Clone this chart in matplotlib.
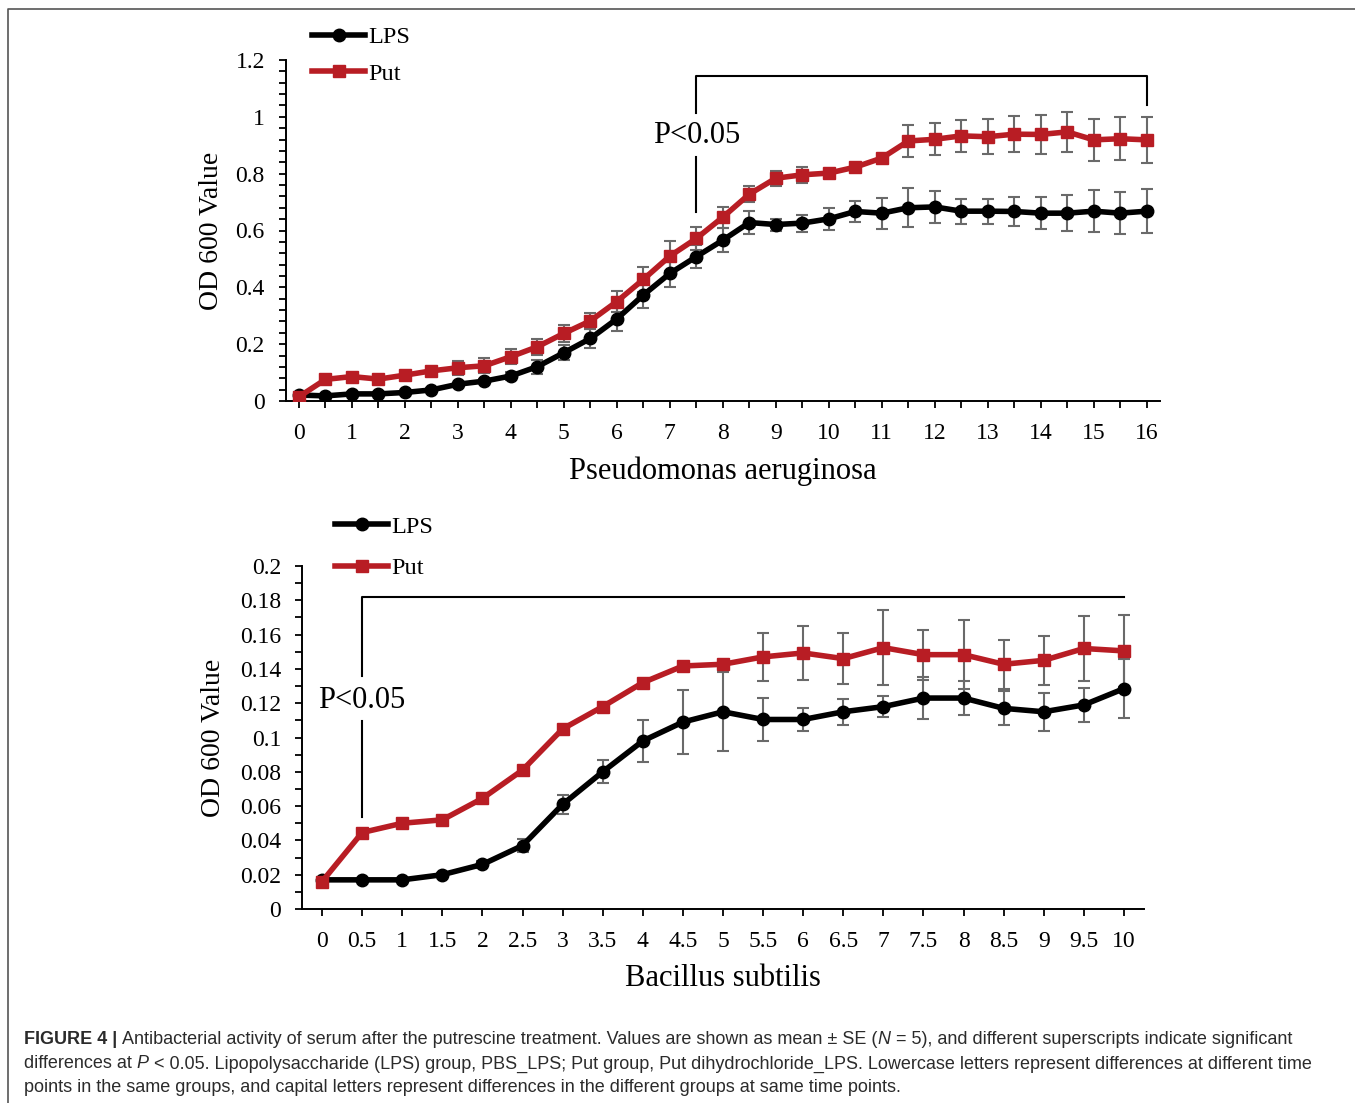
import matplotlib.pyplot as plt
from matplotlib.lines import Line2D
from matplotlib.ticker import MultipleLocator
import numpy as np

W, H = 1355, 1103
plt.rcParams['font.family'] = 'Liberation Serif'

# --- Pseudomonas aeruginosa (0-16 h, every 0.5 h) ---
pa_time = np.arange(0, 16.01, 0.5)
pa_lps = [0.021, 0.018, 0.025, 0.025, 0.030, 0.039, 0.059, 0.070, 0.088, 0.121, 0.170,
          0.220, 0.289, 0.373, 0.449, 0.508, 0.566, 0.628, 0.621, 0.626, 0.641, 0.667,
          0.661, 0.680, 0.683, 0.668, 0.668, 0.667, 0.661, 0.661, 0.668, 0.661, 0.668]
pa_lps_se = [0, 0.004, 0.005, 0.005, 0.005, 0.005, 0.006, 0.006, 0.013, 0.025, 0.027,
             0.035, 0.044, 0.047, 0.047, 0.041, 0.042, 0.039, 0.021, 0.030, 0.039, 0.038,
             0.054, 0.069, 0.057, 0.044, 0.044, 0.051, 0.056, 0.063, 0.075, 0.074, 0.077]
pa_put = [0.015, 0.076, 0.086, 0.077, 0.091, 0.106, 0.117, 0.124, 0.156, 0.191, 0.238,
          0.282, 0.350, 0.428, 0.510, 0.572, 0.647, 0.728, 0.784, 0.796, 0.802, 0.823,
          0.855, 0.915, 0.921, 0.933, 0.930, 0.939, 0.938, 0.947, 0.919, 0.923, 0.919]
pa_put_se = [0, 0.010, 0.012, 0.010, 0.012, 0.012, 0.025, 0.026, 0.026, 0.028, 0.030,
             0.028, 0.038, 0.044, 0.053, 0.042, 0.037, 0.029, 0.027, 0.029, 0.012, 0.010,
             0.010, 0.057, 0.057, 0.057, 0.061, 0.064, 0.068, 0.071, 0.074, 0.076, 0.081]

# --- Bacillus subtilis (0-10 h, every 0.5 h) ---
bs_time = np.arange(0, 10.01, 0.5)
bs_lps = [0.017, 0.017, 0.017, 0.020, 0.026, 0.037, 0.061, 0.080, 0.098, 0.109, 0.115,
          0.1105, 0.1105, 0.115, 0.118, 0.123, 0.123, 0.117, 0.115, 0.119, 0.1285]
bs_lps_se = [0, 0, 0, 0.001, 0.002, 0.004, 0.0057, 0.0066, 0.012, 0.0187, 0.023,
             0.0127, 0.0066, 0.0076, 0.006, 0.0125, 0.010, 0.010, 0.011, 0.010, 0.017]
bs_put = [0.016, 0.0446, 0.050, 0.052, 0.0645, 0.081, 0.105, 0.118, 0.132, 0.1417, 0.1427,
          0.147, 0.1493, 0.146, 0.1524, 0.1483, 0.1483, 0.1427, 0.145, 0.1519, 0.1505]
bs_put_se = [0, 0, 0, 0.001, 0.001, 0.001, 0.001, 0.001, 0.001, 0.001, 0.001,
             0.0138, 0.0159, 0.0148, 0.022, 0.0146, 0.020, 0.0144, 0.0143, 0.0187, 0.021]

RED = '#B81D24'
ERR = '#6a6a6a'

fig = plt.figure(figsize=(W / 100, H / 100), dpi=100)
ax1 = fig.add_axes([285.7 / W, 1 - 401 / H, (1160 - 285.7) / W, (401 - 60) / H])
ax2 = fig.add_axes([302 / W, 1 - 909 / H, (1144 - 302) / W, (909 - 566) / H])


def panel(ax, t, lps, lps_se, put, put_se, ymax, ymajor, yminor, xlab, every_label):
    ax.errorbar(t, lps, yerr=lps_se, fmt='none', ecolor=ERR, elinewidth=1.5,
                capsize=4, capthick=1.5, zorder=2)
    ax.errorbar(t, put, yerr=put_se, fmt='none', ecolor=ERR, elinewidth=1.5,
                capsize=4, capthick=1.5, zorder=2)
    l1, = ax.plot(t, lps, color='black', lw=4, marker='o', ms=9, zorder=3, label='LPS')
    l2, = ax.plot(t, put, color=RED, lw=4, marker='s', ms=9, zorder=4, label='Put')
    ax.set_xlim(-0.25, t[-1] + 0.25)
    ax.set_ylim(0, ymax)
    ax.set_xticks(t)
    if every_label:
        ax.set_xticklabels([f'{v:g}' for v in t])
    else:
        ax.set_xticklabels([f'{v:g}' if v == int(v) else '' for v in t])
    yt = np.arange(0, ymax + 1e-9, ymajor)
    ax.set_yticks(yt)
    ax.set_yticklabels([f'{round(v, 3):g}' for v in yt])
    ax.yaxis.set_minor_locator(MultipleLocator(yminor))
    for s in ['top', 'right']:
        ax.spines[s].set_visible(False)
    for s in ['left', 'bottom']:
        ax.spines[s].set_linewidth(1.4)
    ax.tick_params(axis='y', which='both', direction='out', length=5, width=1.3,
                   labelsize=17, pad=10)
    ax.tick_params(axis='x', direction='out', length=5, width=1.3, labelsize=17, pad=11)
    ax.set_xlabel(xlab, fontsize=22, va='center')
    ax.set_ylabel('OD 600 Value', fontsize=20, va='center')
    return l1, l2


h1 = panel(ax1, pa_time, pa_lps, pa_lps_se, pa_put, pa_put_se, 1.2, 0.2, 0.04,
           'Pseudomonas aeruginosa', False)
h2 = panel(ax2, bs_time, bs_lps, bs_lps_se, bs_put, bs_put_se, 0.2, 0.02, 0.01,
           'Bacillus subtilis', True)

ax1.xaxis.set_label_coords(0.5, -(471 - 401) / (401 - 60))
ax1.yaxis.set_label_coords((211 - 285.7) / (1160 - 285.7), 0.5)
ax2.xaxis.set_label_coords(0.5, -(978 - 909) / (909 - 566))
ax2.yaxis.set_label_coords((213 - 302) / (1144 - 302), 0.5)

ax1.legend(handles=h1, loc='center left', bbox_to_anchor=(312 / W, 1 - 55.5 / H),
           bbox_transform=fig.transFigure, frameon=False, fontsize=17.5, borderpad=0,
           handlelength=2.2, handletextpad=0.1, labelspacing=0.6, borderaxespad=0)
ax2.legend(handles=h2, loc='center left', bbox_to_anchor=(335 / W, 1 - 547.5 / H),
           bbox_transform=fig.transFigure, frameon=False, fontsize=17.5, borderpad=0,
           handlelength=2.2, handletextpad=0.1, labelspacing=0.8, borderaxespad=0)

# significance brackets
ax1.plot([7.5, 7.5, 16, 16], [1.015, 1.143, 1.143, 1.04], color='black', lw=1.5,
         clip_on=False)
ax1.plot([7.5, 7.5], [0.86, 0.665], color='black', lw=1.5)
ax1.text(7.5, 0.935, 'P<0.05', ha='center', va='center', fontsize=22)

ax2.plot([0.5, 0.5, 10], [0.136, 0.182, 0.182], color='black', lw=1.5)
ax2.plot([0.5, 0.5], [0.1096, 0.0535], color='black', lw=1.5)
ax2.text(0.5, 0.1217, 'P<0.05', ha='center', va='center', fontsize=22)

# frame lines of the figure panel
fig.add_artist(Line2D([8 / W, 8 / W, 1], [0, 1 - 9 / H, 1 - 9 / H],
                      transform=fig.transFigure, color='#555555', lw=1.2))

# caption
renderer = fig.canvas.get_renderer()
cap = dict(family='Liberation Sans', fontsize=13, color='#2b2b2b', va='center', ha='left')


def text_width(s, **kw):
    t = fig.text(0, 0, s, **kw)
    w = t.get_window_extent(renderer).width
    t.remove()
    return w


space = text_width('x x', **cap) - text_width('xx', **cap)


def segments(y_px, parts):
    x = 24.0
    for s, extra in parts:
        style = dict(cap)
        style.update(extra)
        lead = len(s) - len(s.lstrip(' '))
        trail = len(s) - len(s.rstrip(' '))
        x += lead * space
        core = s.strip(' ')
        t = fig.text(x / W, 1 - y_px / H, core, **style)
        x += t.get_window_extent(renderer).width + trail * space


segments(1039, [('FIGURE 4 | ', {'weight': 'bold'}),
                ('Antibacterial activity of serum after the putrescine treatment. '
                 'Values are shown as mean \u00b1 SE (', {}),
                ('N', {'style': 'italic'}),
                (' = 5), and different superscripts indicate significant', {})])
segments(1064, [('differences at ', {}), ('P', {'style': 'italic'}),
                (' < 0.05. Lipopolysaccharide (LPS) group, PBS_LPS; Put group, Put '
                 'dihydrochloride_LPS. Lowercase letters represent differences at different time', {})])
segments(1088, [('points in the same groups, and capital letters represent differences in '
                 'the different groups at same time points.', {})])

fig.savefig('out.png', dpi=100)
